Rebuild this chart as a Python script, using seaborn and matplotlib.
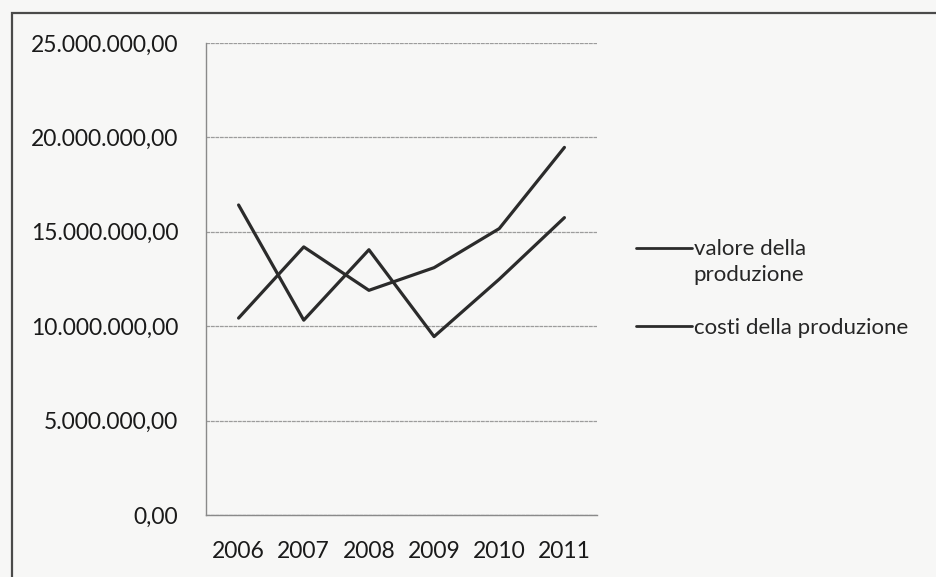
import numpy as np
import pandas as pd
import matplotlib
matplotlib.use("Agg")
import matplotlib.pyplot as plt
from matplotlib.patches import Rectangle
from matplotlib.ticker import FuncFormatter, FixedLocator
import seaborn as sns

# data
years = ["2006", "2007", "2008", "2009", "2010", "2011"]
valore = [10.43e6, 14.20e6, 11.90e6, 13.10e6, 15.17e6, 19.47e6]
costi = [16.42e6, 10.32e6, 14.05e6, 9.45e6, 12.49e6, 15.75e6]
series_names = ["valore della\nproduzione", "costi della produzione"]

df = pd.DataFrame({
    "pos": list(range(len(years))) * 2,
    "anno": years * 2,
    "valore": valore + costi,
    "serie": [series_names[0]] * len(years) + [series_names[1]] * len(years),
})

sns.set_theme(style="white")
plt.rcParams["font.family"] = ["Lato", "DejaVu Sans"]

fig = plt.figure(figsize=(9.36, 5.77), dpi=100)
fig.patch.set_facecolor("#f7f7f6")
ax = fig.add_axes([206 / 936, 1 - 515 / 577, (597 - 206) / 936, (515 - 43) / 577])
ax.set_facecolor("none")

sns.lineplot(data=df, x="pos", y="valore", hue="serie",
             palette=["#2b2b2b", "#2b2b2b"], linewidth=2.3, ax=ax)

ax.set_ylim(0, 25e6)
ax.set_xlim(-0.5, len(years) - 0.5)
ax.set_yticks(np.arange(0, 25e6 + 1, 5e6))
fmt = lambda v, p: f"{v:,.2f}".replace(",", "X").replace(".", ",").replace("X", ".")
ax.yaxis.set_major_formatter(FuncFormatter(fmt))
ax.set_xticks(range(len(years)))
ax.set_xticklabels(years)
ax.xaxis.set_minor_locator(FixedLocator(np.arange(-0.5, len(years), 1.0)))

ax.grid(axis="y", color="#9c9c9c", linewidth=0.9, linestyle=(0, (3, 0.6)))
ax.set_axisbelow(True)
for s in ["top", "right"]:
    ax.spines[s].set_visible(False)
for s in ["left", "bottom"]:
    ax.spines[s].set_color("#8a8a8a")
    ax.spines[s].set_linewidth(1.0)

ax.tick_params(axis="y", which="major", length=7, width=1.0, color="#8a8a8a",
               direction="out", pad=13, labelsize=16.5, labelcolor="#1a1a1a")
ax.tick_params(axis="x", which="major", length=0, pad=19, labelsize=16.5, labelcolor="#1a1a1a")
ax.tick_params(axis="x", which="minor", length=7, width=1.0, color="#8a8a8a", direction="out")
ax.set_xlabel("")
ax.set_ylabel("")

handles, labels = ax.get_legend_handles_labels()
leg = ax.legend(handles, labels, loc="upper left", bbox_to_anchor=(616 / 936, 1 - 219 / 577),
                bbox_transform=fig.transFigure, frameon=False, fontsize=16,
                handlelength=2.5, handletextpad=0.1, labelspacing=1.45)
for t in leg.get_texts():
    t.set_linespacing(1.4)
for line in leg.get_lines():
    line.set_linewidth(2.0)
# the first handle sits on the first text line, as in the original
first = leg.get_lines()[0]
first.set_ydata(np.asarray(first.get_ydata()) + 10.5)

# outer frame of the scanned chart
fig.patches.append(Rectangle((12 / 936, -0.5), 2.0, 1 - 13 / 577 + 0.5, transform=fig.transFigure,
                             fill=False, edgecolor="#4a4a4a", linewidth=1.6, clip_on=False))

fig.savefig("out.png", dpi=100, facecolor=fig.get_facecolor())
